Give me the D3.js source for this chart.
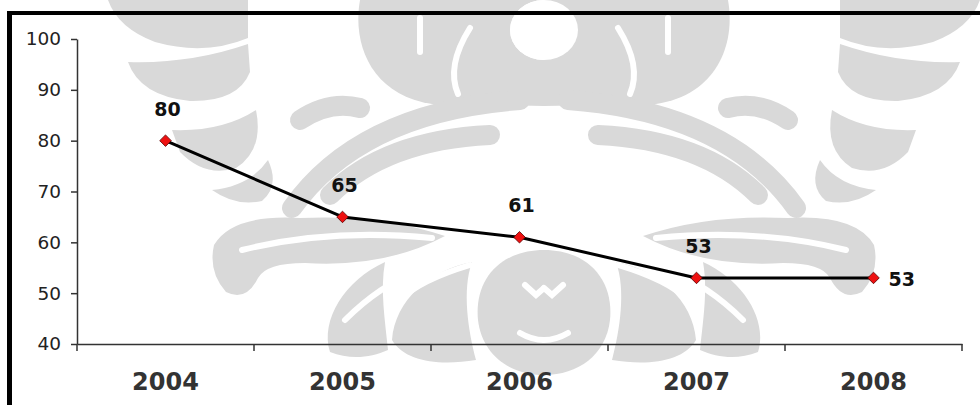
<!DOCTYPE html>
<html><head><meta charset="utf-8">
<script src="https://cdn.jsdelivr.net/npm/d3@7"></script>
<style>html,body{margin:0;padding:0;background:#fff;overflow:hidden}</style>
</head><body>
<svg id="c" width="980" height="405"></svg>
<script>
// ---- data ----
const years = ["2004", "2005", "2006", "2007", "2008"];
const values = [80, 65, 61, 53, 53];
const yTicks = [40, 50, 60, 70, 80, 90, 100];

const svg = d3.select("#c");
const W = 980, H = 405;
const x = d3.scaleBand().domain(years).range([77, 962]);
const y = d3.scaleLinear().domain([40, 100]).range([344, 39]);
const FONT = "'DejaVu Sans', Verdana, sans-serif";
const GRAY = "#d9d9d9";

// ---- decorative watermark (background logo, approximate, mirrored) ----
const wm = svg.append("g").attr("id", "wmL").attr("fill", GRAY);
const half = wm.append("g");
const shapes = [
  // stacked bowls at the outer side
  "M108,0 L248,0 L248,38 Q205,56 155,42 Q118,28 108,0 Z",
  "M128,62 Q190,64 248,44 L250,72 Q238,102 190,101 Q140,96 128,62 Z",
  "M172,130 Q222,132 256,110 Q264,150 236,168 Q205,178 180,152 Z",
  "M212,190 Q250,186 268,160 Q280,186 262,201 Q236,207 212,190 Z",
  // tongue with hook
  "M214,245 Q232,214 300,218 Q380,214 445,236 Q385,268 305,263 Q266,263 258,278 Q246,302 226,292 Q208,272 214,245 Z",
  // top cap
  "M360,0 C352,45 372,95 432,104 L544,106 L544,0 Z",
  // central face
  "M544,250 C500,250 474,280 478,320 C482,355 510,375 544,375 Z",
  // lower side wings
  "M472,262 C430,270 395,300 392,340 C405,362 440,366 476,360 C468,330 462,290 472,262 Z",
  "M385,262 C345,280 320,320 330,352 C350,360 370,358 388,350 C385,320 380,290 385,262 Z"
];
half.selectAll("path.s").data(shapes).join("path").attr("class", "s").attr("d", d => d);
const bands = [
  "M292,208 Q360,112 520,100",
  "M330,195 Q385,140 490,135",
  "M300,120 Q330,100 360,108"
];
half.selectAll("path.b").data(bands).join("path").attr("class", "b").attr("d", d => d)
  .attr("fill", "none").attr("stroke", GRAY).attr("stroke-width", 20).attr("stroke-linecap", "round");
// white cut lines for texture
const cuts = [
  "M420,18 L420,52", "M470,28 Q446,66 458,94", "M242,250 Q330,228 432,238",
  "M525,285 L536,295 L544,288", "M520,333 Q532,340 544,340", "M400,300 Q420,280 470,265",
  "M345,320 Q380,285 420,270"
];
half.selectAll("path.c").data(cuts).join("path").attr("class", "c").attr("d", d => d)
  .attr("fill", "none").attr("stroke", "#fff").attr("stroke-width", 6).attr("stroke-linecap", "round");
half.append("ellipse").attr("cx", 544).attr("cy", 30).attr("rx", 34).attr("ry", 30).attr("fill", "#fff");
svg.append("use").attr("href", "#wmL").attr("transform", "translate(1088,0) scale(-1,1)");

// ---- frame borders ----
svg.append("rect").attr("x", 7).attr("y", 11).attr("width", W - 7).attr("height", 4).attr("fill", "#000");
svg.append("rect").attr("x", 7).attr("y", 11).attr("width", 5).attr("height", H - 11).attr("fill", "#000");

// ---- y axis ----
const yAx = svg.append("g").attr("transform", "translate(77,0)")
  .call(d3.axisLeft(y).tickValues(yTicks).tickSize(6).tickPadding(10).tickSizeOuter(0));
yAx.select(".domain").attr("stroke", "#333").attr("stroke-width", 1.5);
yAx.selectAll(".tick line").attr("stroke", "#333").attr("stroke-width", 1.5);
yAx.selectAll(".tick text").attr("font-family", FONT).attr("font-size", 18.5).attr("fill", "#222");

// ---- x axis ----
const xAx = svg.append("g").attr("transform", "translate(0,344)")
  .call(d3.axisBottom(x).tickSize(0).tickPadding(0));
xAx.select(".domain").attr("stroke", "#333").attr("stroke-width", 1.5);
xAx.selectAll(".tick text").attr("font-family", FONT).attr("font-size", 24).attr("font-weight", "bold")
  .attr("fill", "#333").attr("dy", null).attr("y", 46);
const bounds = years.map(d => x(d)).concat([x.range()[1]]);
xAx.selectAll(".bt").data(bounds).join("line").attr("class", "bt")
  .attr("x1", d => d).attr("x2", d => d).attr("y1", 0).attr("y2", 7)
  .attr("stroke", "#333").attr("stroke-width", 1.5);

// ---- line ----
const pts = years.map((yr, i) => ({ yr, v: values[i], i }));
const cx = d => x(d.yr) + x.bandwidth() / 2;
svg.append("path").datum(pts)
  .attr("d", d3.line().x(cx).y(d => y(d.v)))
  .attr("fill", "none").attr("stroke", "#000").attr("stroke-width", 3).attr("stroke-linejoin", "round");

// ---- markers ----
svg.selectAll(".mk").data(pts).join("path").attr("class", "mk")
  .attr("d", d3.symbol(d3.symbolDiamond2, 85))
  .attr("transform", d => `translate(${cx(d)},${y(d.v)})`)
  .attr("fill", "#ee1111").attr("stroke", "#550000").attr("stroke-width", 0.8);

// ---- data labels ----
svg.selectAll(".lb").data(pts).join("text").attr("class", "lb")
  .attr("x", d => d.i === pts.length - 1 ? cx(d) + 15 : cx(d) + 2)
  .attr("y", d => d.i === pts.length - 1 ? y(d.v) + 8 : y(d.v) - 25)
  .attr("text-anchor", d => d.i === pts.length - 1 ? "start" : "middle")
  .attr("font-family", FONT).attr("font-size", 19).attr("font-weight", "bold").attr("fill", "#111")
  .text(d => d.v);
</script>
</body></html>
